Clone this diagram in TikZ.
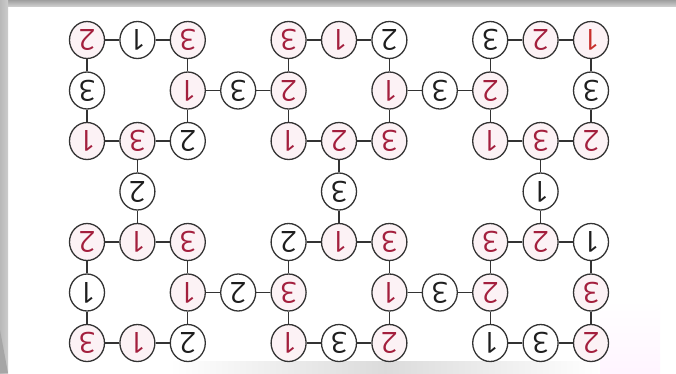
\documentclass[tikz,border=0pt]{standalone}
\usepackage{fontspec}
\setmainfont{Open Sans}
\usetikzlibrary{shapes.geometric}
\definecolor{rd}{HTML}{A31F3D}
\definecolor{orr}{HTML}{C8302C}
\definecolor{ink}{HTML}{1E1E1E}
\definecolor{ring}{HTML}{333333}
\definecolor{pinkfill}{HTML}{FCF2F5}
\newcommand\nd[5]{\node[#5] (#1) at ({87+50.4*#2},{40+50.5*#3}) {#4};}
\begin{document}
\begin{tikzpicture}[x=1pt,y=-1pt,
  num/.style={ellipse, draw=ring, line width=1.3pt, minimum width=35pt, minimum height=37pt,
    inner sep=0pt, rotate=180, font=\fontsize{29}{29}\selectfont, text=ink, fill=white},
  rnum/.style={num, text=rd, fill=pinkfill},
  link/.style={draw=ring, line width=1.2pt}]
\useasboundingbox (0,0) rectangle (676,373);
% page / photo background
\fill[white] (0,0) rectangle (676,373);
\shade[top color=gray!75, bottom color=gray!40] (0,0) rectangle (676,6);
\shade[left color=gray!55, right color=gray!40] (0,0) rectangle (8,373);
\fill[gray!70] (0,330) -- (8,373) -- (0,373) -- cycle;
\shade[left color=white, right color=white, middle color=gray!28] (170,361) rectangle (600,373);
\shade[top color=white, bottom color=magenta!4] (600,300) rectangle (660,373);

% ---- top section ----
% group A
\nd{a00}{0}{0}{2}{rnum}
\nd{a10}{1}{0}{1}{num}
\nd{a20}{2}{0}{3}{rnum}
\nd{a01}{0}{1}{3}{num}
\nd{a21}{2}{1}{1}{rnum}
\nd{a02}{0}{2}{1}{rnum}
\nd{a12}{1}{2}{3}{rnum}
\nd{a22}{2}{2}{2}{num}
\nd{x31}{3}{1}{3}{num}
\nd{v13}{1}{3}{2}{num}
% group B
\nd{b40}{4}{0}{3}{rnum}
\nd{b50}{5}{0}{1}{rnum}
\nd{b60}{6}{0}{2}{num}
\nd{b41}{4}{1}{2}{rnum}
\nd{b61}{6}{1}{1}{rnum}
\nd{b42}{4}{2}{1}{rnum}
\nd{b52}{5}{2}{2}{rnum}
\nd{b62}{6}{2}{3}{rnum}
\nd{x71}{7}{1}{3}{num}
\nd{v53}{5}{3}{3}{num}
% group C
\nd{c80}{8}{0}{3}{num}
\nd{c90}{9}{0}{2}{rnum}
\nd{c100}{10}{0}{1}{rnum,text=orr}
\nd{c81}{8}{1}{2}{rnum}
\nd{c101}{10}{1}{3}{num}
\nd{c82}{8}{2}{1}{rnum}
\nd{c92}{9}{2}{3}{rnum}
\nd{c102}{10}{2}{2}{rnum}
\nd{v93}{9}{3}{1}{num}

% ---- bottom section ----
% group D
\nd{d04}{0}{4}{2}{rnum}
\nd{d14}{1}{4}{1}{rnum}
\nd{d24}{2}{4}{3}{rnum}
\nd{d05}{0}{5}{1}{num}
\nd{d25}{2}{5}{1}{rnum}
\nd{d06}{0}{6}{3}{rnum}
\nd{d16}{1}{6}{1}{rnum}
\nd{d26}{2}{6}{2}{num}
\nd{x35}{3}{5}{2}{num}
% group E
\nd{e44}{4}{4}{2}{num}
\nd{e54}{5}{4}{1}{rnum}
\nd{e64}{6}{4}{3}{rnum}
\nd{e45}{4}{5}{3}{rnum}
\nd{e65}{6}{5}{1}{rnum}
\nd{e46}{4}{6}{1}{rnum}
\nd{e56}{5}{6}{3}{num}
\nd{e66}{6}{6}{2}{rnum}
\nd{x75}{7}{5}{3}{num}
% group F
\nd{f84}{8}{4}{3}{rnum}
\nd{f94}{9}{4}{2}{rnum}
\nd{f104}{10}{4}{1}{num}
\nd{f85}{8}{5}{2}{rnum}
\nd{f105}{10}{5}{3}{rnum}
\nd{f86}{8}{6}{1}{num}
\nd{f96}{9}{6}{3}{num}
\nd{f106}{10}{6}{2}{rnum}

% ---- connectors ----
\path[link]
  (a00)--(a10) (a10)--(a20) (a20)--(a21) (a21)--(a22) (a22)--(a12) (a12)--(a02) (a02)--(a01) (a01)--(a00)
  (b40)--(b50) (b50)--(b60) (b60)--(b61) (b61)--(b62) (b62)--(b52) (b52)--(b42) (b42)--(b41) (b41)--(b40)
  (c80)--(c90) (c90)--(c100) (c100)--(c101) (c101)--(c102) (c102)--(c92) (c92)--(c82) (c82)--(c81) (c81)--(c80)
  (a21)--(x31) (x31)--(b41) (b61)--(x71) (x71)--(c81)
  (a12)--(v13) (v13)--(d14) (b52)--(v53) (v53)--(e54) (c92)--(v93) (v93)--(f94)
  (d04)--(d14) (d14)--(d24) (d24)--(d25) (d25)--(d26) (d26)--(d16) (d16)--(d06) (d06)--(d05) (d05)--(d04)
  (e44)--(e54) (e54)--(e64) (e64)--(e65) (e65)--(e66) (e66)--(e56) (e56)--(e46) (e46)--(e45) (e45)--(e44)
  (f84)--(f94) (f94)--(f104) (f104)--(f105) (f105)--(f106) (f106)--(f96) (f96)--(f86) (f86)--(f85) (f85)--(f84)
  (d25)--(x35) (x35)--(e45) (e65)--(x75) (x75)--(f85);
\end{tikzpicture}
\end{document}
